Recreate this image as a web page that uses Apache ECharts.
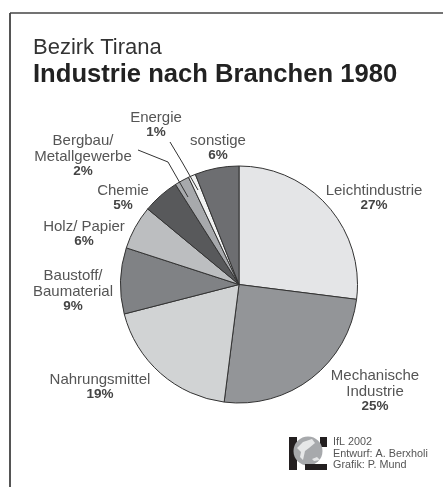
<!DOCTYPE html>
<html><head><meta charset="utf-8">
<style>html,body{margin:0;padding:0;background:#fff}#c{width:443px;height:487px}</style>
<script src="https://cdn.jsdelivr.net/npm/echarts@6/dist/echarts.min.js"></script>
</head><body><div id="c"></div>
<script>
const categories = ['Leichtindustrie','Mechanische\nIndustrie','Nahrungsmittel','Baustoff/\nBaumaterial','Holz/ Papier','Chemie','Bergbau/\nMetallgewerbe','Energie','sonstige'];
const values = [27,25,19,9,6,5,2,1,6];
const colors = ['#e4e5e7','#939598','#d1d3d4','#808285','#bcbec0','#58595b','#a7a9ac','#f1f2f2','#6d6e71'];
const labelCenters = [[374,197],[375,390],[100,386],[73,290],[84,233],[123,197],[83,155],[156,124],[218,147]];
const leaderLines = [
  [[138,150],[168,162],[188,197]],
  [[170,142],[182,162],[198,190]]
];
const FONT='"Liberation Sans",Arial,sans-serif';
const chart = echarts.init(document.getElementById('c'),null,{renderer:'canvas'});
chart.setOption({
  animation:false,
  backgroundColor:'#fff',
  title:[
    {text:'Bezirk Tirana',left:33,top:37,padding:0,textStyle:{fontFamily:FONT,fontWeight:'normal',fontSize:22,color:'#333'}},
    {text:'Industrie nach Branchen 1980',left:33,top:62,padding:0,textStyle:{fontFamily:FONT,fontWeight:'bold',fontSize:25.6,color:'#222'}},
    {text:'IfL 2002\nEntwurf: A. Berxholi\nGrafik: P. Mund',left:333,top:436,padding:0,textStyle:{fontFamily:FONT,fontWeight:'normal',fontSize:10.8,lineHeight:11.7,color:'#555'}}
  ],
  graphic:[
    {type:'line',shape:{x1:10,y1:13,x2:10,y2:487},style:{stroke:'#555',lineWidth:2}},
    {type:'line',shape:{x1:10,y1:13,x2:443,y2:13},style:{stroke:'#444',lineWidth:1.5}},
    {type:'rect',shape:{x:289,y:437,width:8,height:33},style:{fill:'#231f20'}},
    {type:'rect',shape:{x:320,y:437,width:7,height:10},style:{fill:'#231f20'}},
    {type:'circle',shape:{cx:308,cy:451,r:14.5},style:{fill:'#a7a9ac'}},
    {type:'rect',shape:{x:305,y:464,width:22,height:6},style:{fill:'#231f20'}},
    {type:'polygon',shape:{points:[[297,448],[303,442],[312,439],[315,443],[309,448],[305,451],[303,460],[300,457],[301,452]]},style:{fill:'#e6e7e8'}},
    {type:'polygon',shape:{points:[[312,459],[317,457],[320,460],[314,461]]},style:{fill:'#e6e7e8'}},
    ...leaderLines.map(pts=>({type:'polyline',z:100,shape:{points:pts},style:{stroke:'#333',lineWidth:1,fill:null}}))
  ],
  series:[{
    type:'pie',
    center:[239,284.5],
    radius:[0,118.5],
    startAngle:90,
    clockwise:true,
    avoidLabelOverlap:false,
    data:categories.map((n,i)=>({name:n,value:values[i],itemStyle:{color:colors[i]}})),
    itemStyle:{borderColor:'#333',borderWidth:1},
    label:{
      show:true,position:'outside',
      formatter:p=>p.name.split('\n').map(s=>'{n|'+s+'}').join('\n')+'\n{b|'+p.value+'%}',
      rich:{
        n:{fontFamily:FONT,fontSize:15,color:'#555',lineHeight:16,align:'center'},
        b:{fontFamily:FONT,fontSize:13.5,fontWeight:'bold',color:'#444',lineHeight:13,align:'center'}
      }
    },
    labelLine:{show:false},
    labelLayout:p=>{
      const c=labelCenters[p.dataIndex];
      return {x:c[0],y:c[1],align:'center',verticalAlign:'middle'};
    },
    emphasis:{disabled:true}
  }]
});
</script></body></html>
